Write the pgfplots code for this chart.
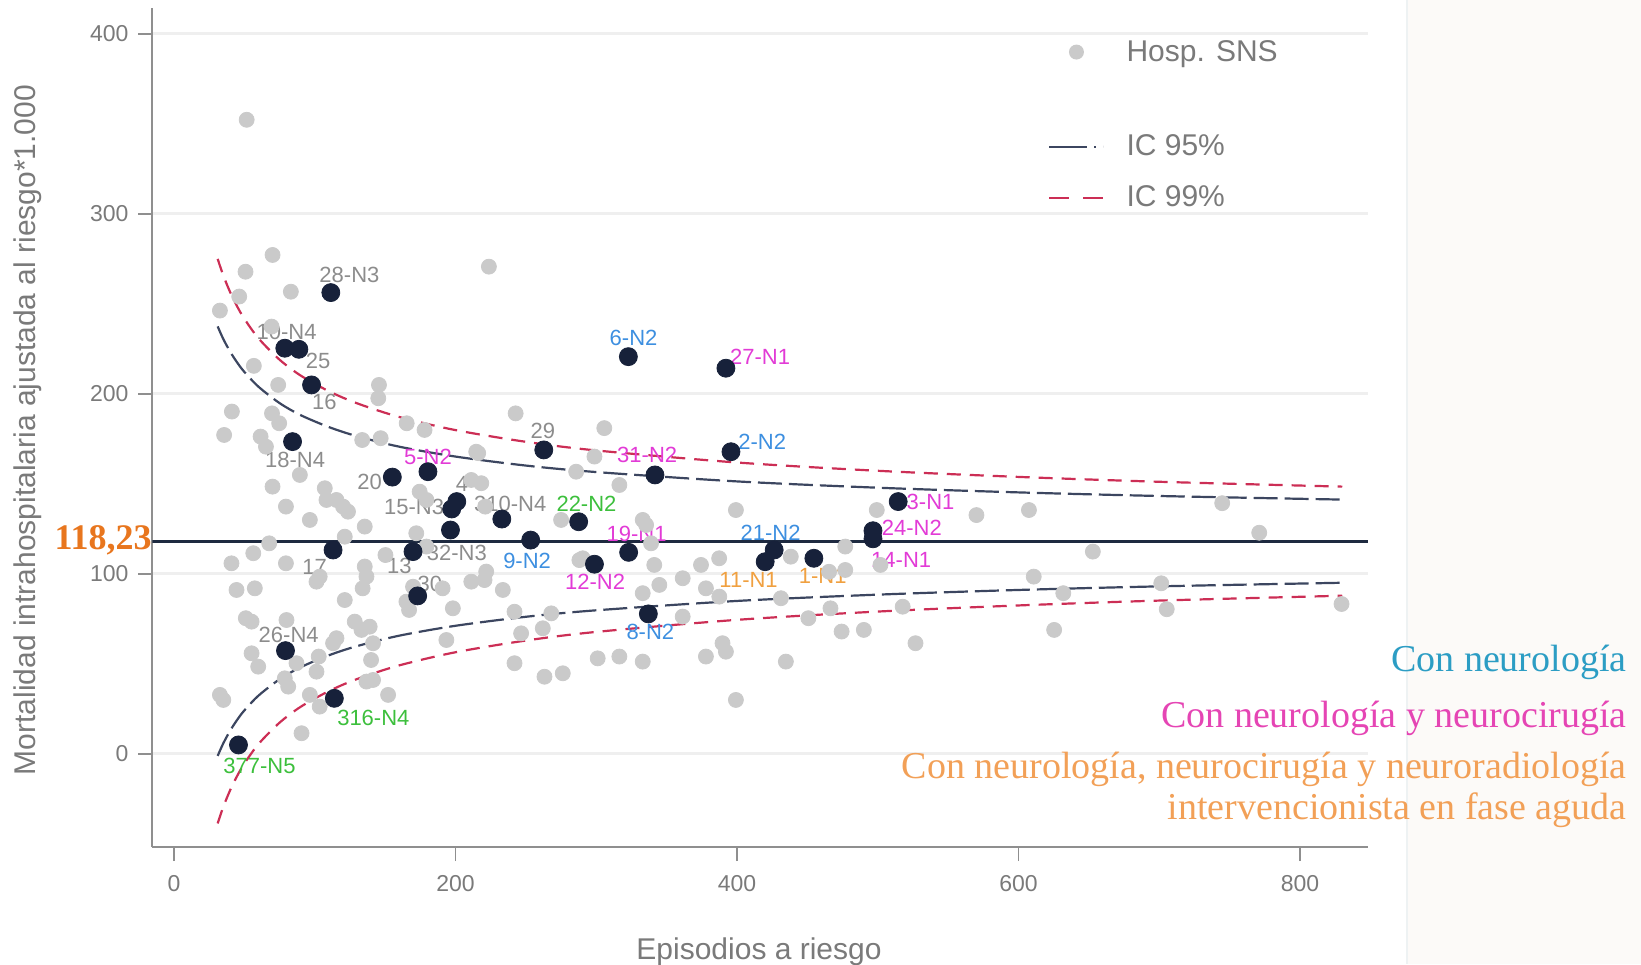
\documentclass[border=0pt]{standalone}
\usepackage{pgfplots}
\usepackage{pgfplotstable}
\pgfplotsset{compat=1.18}
\usepackage{fontspec}
\setmainfont{Liberation Sans}
\newfontfamily\notefont{Liberation Serif}

\definecolor{axisgray}{HTML}{8F8F8F}
\definecolor{ticktext}{HTML}{7A7A7A}
\definecolor{gridgray}{HTML}{EFEFEF}
\definecolor{hospgray}{HTML}{CACACA}
\definecolor{navy}{HTML}{17213A}
\definecolor{meanline}{HTML}{1E2A40}
\definecolor{icnf}{HTML}{3C4660}
\definecolor{icnn}{HTML}{CC2E55}
\definecolor{labgray}{HTML}{8C8C8C}
\definecolor{labblue}{HTML}{3D8FE0}
\definecolor{labmag}{HTML}{E23BD6}
\definecolor{labgreen}{HTML}{3CBF3C}
\definecolor{laborange}{HTML}{F0A040}
\definecolor{meanorange}{HTML}{E8761E}
\definecolor{noteteal}{HTML}{2C9DC4}
\definecolor{notemag}{HTML}{E545B4}
\definecolor{noteorange}{HTML}{F2A057}
\definecolor{panel}{HTML}{FCFAF8}
\definecolor{panelline}{HTML}{EEF2F3}

% Hospitales del SNS (episodios, mortalidad ajustada)
\pgfplotstableread{
x y
51.6 352.3
70.0 277.2
50.8 267.9
83.0 256.8
46.3 254.1
32.6 246.3
69.3 237.4
56.7 215.6
74.0 205.0
145.6 205.0
41.1 190.2
35.6 177.2
69.6 189.2
74.7 183.7
61.5 176.3
65.3 170.7
145.1 197.6
165.3 183.7
178.0 180.0
133.7 174.4
146.8 175.4
216.1 167.1
242.7 189.2
223.7 270.7
40.8 105.9
56.3 111.5
67.6 117.0
44.4 91.1
57.4 92.0
79.5 105.9
70.0 148.5
79.5 137.4
89.4 155.0
96.5 130.0
107.1 147.6
108.3 141.1
115.4 141.1
120.1 137.4
123.6 134.6
121.3 120.7
135.5 126.3
101.2 95.7
103.5 98.5
121.3 85.5
135.5 104.1
136.7 98.5
51.0 75.4
55.1 73.5
79.9 74.4
55.1 55.9
59.8 48.5
87.0 50.4
101.2 45.7
78.7 42.0
81.1 37.4
113.0 61.5
115.4 64.3
128.4 73.5
133.2 68.9
139.0 70.7
141.4 61.5
32.6 32.8
35.0 30.0
96.5 32.8
103.5 26.3
90.6 11.5
136.7 40.2
141.4 41.1
152.1 32.8
167.0 80.0
165.1 84.6
169.8 92.9
198.1 80.9
193.5 63.3
179.3 115.2
172.1 122.6
174.5 145.7
179.3 141.1
214.7 167.9
211.2 152.2
211.2 95.7
305.7 181.0
298.7 165.2
285.7 156.8
218.3 150.4
316.4 149.4
399.2 135.5
275.0 130.0
333.0 130.0
335.4 127.2
338.9 117.0
288.0 107.7
290.4 108.7
221.8 101.3
220.6 96.6
233.6 91.1
341.2 105.0
361.4 97.6
374.4 105.0
387.3 108.7
377.9 92.0
344.8 93.9
333.0 89.3
438.2 109.6
241.9 79.0
268.0 78.1
262.0 69.8
246.6 67.0
361.4 76.3
431.2 86.5
241.9 50.4
263.2 42.9
276.2 44.8
301.0 53.1
316.4 54.1
333.0 51.3
377.9 54.1
389.7 61.5
392.1 56.8
434.7 51.3
399.2 30.0
499.3 135.5
476.9 115.2
476.9 102.2
570.1 132.7
607.4 135.5
744.7 139.3
771.0 122.9
652.8 112.4
501.9 105.0
610.8 98.5
701.4 94.8
631.8 89.3
517.7 81.8
466.4 80.9
450.7 75.4
705.3 80.4
829.5 83.3
474.3 68.0
490.1 68.9
625.3 68.9
526.8 61.5
387.4 87.4
134.0 92.0
150.2 110.5
190.8 92.0
221.1 137.4
102.8 54.1
140.0 52.2
465.4 101.2
}\hospdata

% Centros identificados (episodios, mortalidad ajustada)
\pgfplotstableread{
x y
111.4 256.3
78.7 225.4
88.7 224.8
97.7 205.0
84.2 173.5
155.1 153.8
180.4 156.8
200.9 140.2
197.3 136.1
196.4 124.4
232.9 130.5
253.4 118.8
113.0 113.3
169.8 112.4
173.1 87.8
79.2 57.4
113.9 30.9
45.8 5.0
262.7 168.9
322.8 220.7
392.1 214.3
341.7 155.0
395.7 167.9
287.5 129.0
298.7 105.4
323.0 112.0
337.0 77.8
426.4 113.3
420.0 106.8
454.6 108.7
514.5 140.2
496.6 124.0
496.6 119.5
}\centros

% Limites de control (IC 95% e IC 99%)
\pgfplotstableread{
n u95 l95 u99 l99
31 237.5 -1.1 275.0 -38.6
35 230.5 5.9 265.8 -29.4
40 223.3 13.1 256.3 -19.9
45 217.3 19.1 248.4 -12.0
50 212.2 24.2 241.7 -5.3
60 204.0 32.4 230.9 5.5
75 194.9 41.5 219.0 17.4
90 188.2 48.2 210.2 26.2
110 181.6 54.8 201.5 34.9
130 176.5 59.9 194.8 41.6
160 170.7 65.7 187.2 49.2
200 165.2 71.2 179.9 56.5
250 160.2 76.2 173.4 63.0
300 156.6 79.8 168.6 67.8
400 151.4 85.0 161.9 74.5
500 147.9 88.5 157.3 79.1
600 145.3 91.1 153.9 82.5
700 143.3 93.1 151.2 85.2
830 141.3 95.1 148.5 87.9
}\limites

\tikzset{
  ic95/.style={draw=icnf, line width=1.1pt, dash pattern=on 12pt off 3.5pt},
  ic99/.style={draw=icnn, line width=1.1pt, dash pattern=on 7pt off 4.5pt},
  lbl/.style={inner sep=0pt, anchor=center, font=\fontsize{11}{13}\selectfont},
}
% etiqueta de centro: color, x, y, dx, dy, texto
\newcommand\centro[6]{\node[lbl, text=#1, xshift=#4pt, yshift=#5pt] at (axis cs:#2,#3) {#6};}

\begin{document}
\begin{tikzpicture}
\fill[panel] (627.25pt,-58.5pt) rectangle (744.25pt,423.5pt);
\draw[panelline, line width=1pt] (627.25pt,-58.5pt) -- (627.25pt,423.5pt);
\begin{axis}[
  at={(0pt,0pt)}, anchor=south west,
  scale only axis, width=607.75pt, height=419.5pt,
  xmin=-15.3, xmax=848.3, ymin=-51.7, ymax=414.4,
  axis x line*=bottom, axis y line*=left,
  axis line style={-, draw=axisgray, line width=1pt},
  xtick={0,200,400,600,800}, ytick={0,100,200,300,400},
  tick align=outside, major tick length=7pt,
  tick style={draw=axisgray, line width=0.8pt},
  ymajorgrids, grid style={draw=gridgray, line width=1.5pt},
  /pgf/number format/assume math mode=true,
  ticklabel style={font=\fontsize{11.5}{13}\selectfont, text=ticktext},
  xticklabel style={yshift=-3.7pt},
  yticklabel style={xshift=-1.5pt},
  xlabel={Episodios a riesgo},
  ylabel={Mortalidad intrahospitalaria ajustada al riesgo*1.000},
  label style={font=\fontsize{15}{18}\selectfont, text=ticktext},
  xlabel style={at={(axis description cs:0.499,-0.1254)}, anchor=center},
  ylabel style={at={(axis description cs:-0.1024,0.497)}, anchor=center},
  legend style={at={(axis description cs:0.7367,0.967)}, anchor=north west,
    draw=none, fill=none, inner sep=0pt, font=\fontsize{15}{18}\selectfont,
    text=ticktext, row sep=9.7pt, column sep=9pt},
  legend cell align=left,
]
\addplot[only marks, mark=*, mark size=3.75pt, color=hospgray,
  legend image code/.code={\fill[hospgray, draw=none] (13.5pt,0pt) circle (3.75pt); \path[draw=none, fill=none] (0pt,-4pt) rectangle (27pt,4pt);}]
  table[x=x, y=y] {\hospdata};
\addlegendentry{Hosp. SNS}
\addlegendimage{empty legend}
\addlegendentry{\rule[-1pt]{0pt}{7.4pt}}

\addplot[ic95, smooth, legend image code/.code={\draw[draw=icnf, line width=1.1pt, dash pattern=on 19pt off 3.5pt on 1pt off 3.5pt] (0pt,0pt) -- (27pt,0pt);}]
  table[x=n, y=u95] {\limites};
\addlegendentry{IC 95\%}
\addplot[ic95, smooth, forget plot] table[x=n, y=l95] {\limites};
\addplot[ic99, smooth, legend image code/.code={\draw[draw=icnn, line width=1.1pt, dash pattern=on 10pt off 7pt] (0pt,0pt) -- (27pt,0pt);}]
  table[x=n, y=u99] {\limites};
\addlegendentry{IC 99\%}
\addplot[ic99, smooth, forget plot] table[x=n, y=l99] {\limites};

% media global
\addplot[draw=meanline, line width=1.5pt, forget plot] coordinates {(-15.3,118.23) (848.3,118.23)};

% centros identificados
\addplot[only marks, mark=*, mark size=4.5pt, color=navy, forget plot]
  table[x=x, y=y] {\centros};

\centro{labgray}{111.4}{256.3}{9.3}{8.7}{28-N3}
\centro{labgray}{78.7}{225.4}{0.9}{8.3}{10-N4}
\centro{labgray}{88.7}{224.8}{9.6}{-5.9}{25}
\centro{labgray}{97.7}{205.0}{6.4}{-8.4}{16}
\centro{labgray}{84.2}{173.5}{1.3}{-8.9}{18-N4}
\centro{labgray}{155.1}{153.8}{-11.4}{-2.2}{20}
\centro{labmag}{180.4}{156.8}{0}{7.5}{5-N2}
\centro{labgray}{200.9}{140.2}{2.6}{8.9}{4}
\centro{labgray}{197.3}{136.1}{-18.8}{1}{15-N3}
\centro{labgray}{196.4}{124.4}{3.2}{-11.5}{32-N3}
\centro{labgray}{232.9}{130.5}{4.2}{7.8}{310-N4}
\centro{labblue}{253.4}{118.8}{-1.8}{-10.5}{9-N2}
\centro{labgray}{113.0}{113.3}{-9.2}{-8.6}{17}
\centro{labgray}{169.8}{112.4}{-6.8}{-7.1}{13}
\centro{labgray}{173.1}{87.8}{6.1}{6.0}{30}
\centro{labgray}{79.2}{57.4}{1.6}{7.7}{26-N4}
\centro{labgreen}{113.9}{30.9}{19.5}{-9.8}{316-N4}
\centro{labgreen}{45.8}{5.0}{10.5}{-10.5}{377-N5}
\centro{labgray}{262.7}{168.9}{-0.5}{9.4}{29}
\centro{labblue}{322.8}{220.7}{2.6}{9.3}{6-N2}
\centro{labmag}{392.1}{214.3}{17.1}{5.7}{27-N1}
\centro{labmag}{341.7}{155.0}{-3.9}{9.8}{31-N2}
\centro{labblue}{395.7}{167.9}{15.6}{5.0}{2-N2}
\centro{labgreen}{287.5}{129.0}{3.9}{9.2}{22-N2}
\centro{labmag}{298.7}{105.4}{0.3}{-8.8}{12-N2}
\centro{labmag}{323.0}{112.0}{4.0}{9.3}{19-N1}
\centro{labblue}{337.0}{77.8}{1.0}{-9.1}{8-N2}
\centro{labblue}{426.4}{113.3}{-1.8}{8.6}{21-N2}
\centro{laborange}{420.0}{106.8}{-8.3}{-9.1}{11-N1}
\centro{laborange}{454.6}{108.7}{4.4}{-8.6}{1-N1}
\centro{labmag}{514.5}{140.2}{16.2}{0}{3-N1}
\centro{labmag}{496.6}{124.0}{19.4}{1.6}{24-N2}
\centro{labmag}{496.6}{119.5}{14.1}{-10.5}{14-N1}
\end{axis}

\node[anchor=base east, text=meanorange, font=\notefont\bfseries\fontsize{18}{21}\selectfont, inner sep=0pt] at (-0.25pt,149pt) {118,23};

\node[anchor=base east, text=noteteal, font=\notefont\fontsize{19}{22}\selectfont, inner sep=0pt] at (737.25pt,88pt) {Con neurología};
\node[anchor=base east, text=notemag, font=\notefont\fontsize{19}{22}\selectfont, inner sep=0pt] at (737.25pt,60pt) {Con neurología y neurocirugía};
\node[anchor=base east, text=noteorange, font=\notefont\fontsize{19}{22}\selectfont, inner sep=0pt] at (737.25pt,34.5pt) {Con neurología, neurocirugía y neuroradiología};
\node[anchor=base east, text=noteorange, font=\notefont\fontsize{19}{22}\selectfont, inner sep=0pt] at (737.25pt,13.75pt) {intervencionista en fase aguda};

\pgfresetboundingbox
\path[use as bounding box] (-76.25pt,-58.5pt) rectangle (744.25pt,423.5pt);
\end{tikzpicture}
\end{document}
